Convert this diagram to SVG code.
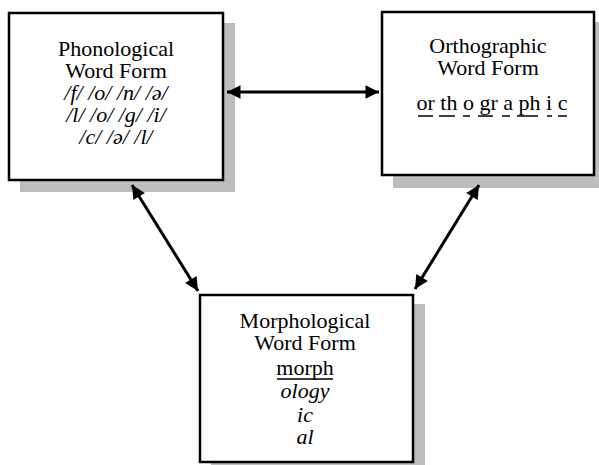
<svg xmlns="http://www.w3.org/2000/svg" width="599" height="465" viewBox="0 0 599 465">
<defs>
<style>
.shadow{fill:#bdbdbd;}
.box{fill:#fff;stroke:#000;stroke-width:2.5;}
.t{font-family:"Liberation Serif","Times New Roman",serif;font-size:22px;fill:#000;text-anchor:middle;}
.i{font-style:italic;}
.ul{stroke:#000;stroke-width:1.5;}
.conn{stroke:#000;stroke-width:3;fill:none;marker-start:url(#ah);marker-end:url(#ah);}
</style>
<marker id="ah" viewBox="0 0 10 10" refX="10" refY="5" markerWidth="5.5" markerHeight="4.5" orient="auto-start-reverse" markerUnits="strokeWidth">
<path d="M0,0 L10,5 L0,10 z" fill="#000"/>
</marker>
</defs>
<rect width="599" height="465" fill="#fff"/>
<g id="phonological">
<rect class="shadow" x="20" y="23" width="215" height="169"/>
<rect class="box" x="9" y="13" width="214" height="167"/>
<text class="t" x="116" y="56">Phonological</text>
<text class="t" x="116" y="78">Word Form</text>
<text class="t i" x="116" y="100">/f/ /o/ /n/ /ə/</text>
<text class="t i" x="116" y="122">/l/ /o/ /g/ /i/</text>
<text class="t i" x="116" y="144">/c/ /ə/ /l/</text>
</g>
<g id="orthographic">
<rect class="shadow" x="393" y="22" width="210" height="166"/>
<rect class="box" x="382" y="12" width="212" height="163"/>
<text class="t" x="488" y="53">Orthographic</text>
<text class="t" x="488" y="75">Word Form</text>
<text class="t" x="492" y="110">or th o gr a ph i c</text>
<line class="ul" x1="418" y1="116" x2="433" y2="116"/>
<line class="ul" x1="439" y1="116" x2="455" y2="116"/>
<line class="ul" x1="463" y1="116" x2="470" y2="116"/>
<line class="ul" x1="478" y1="116" x2="493" y2="116"/>
<line class="ul" x1="502" y1="116" x2="510" y2="116"/>
<line class="ul" x1="517" y1="116" x2="538" y2="116"/>
<line class="ul" x1="547" y1="116" x2="552" y2="116"/>
<line class="ul" x1="558" y1="116" x2="567" y2="116"/>
</g>
<g id="morphological">
<rect class="shadow" x="211" y="304" width="214" height="168"/>
<rect class="box" x="200" y="295" width="213" height="167"/>
<text class="t" x="305" y="328">Morphological</text>
<text class="t" x="305" y="350">Word Form</text>
<text class="t" x="305" y="375">morph</text>
<line class="ul" x1="277" y1="379" x2="333" y2="379"/>
<text class="t i" x="305" y="398">ology</text>
<text class="t i" x="305" y="422">ic</text>
<text class="t i" x="305" y="444">al</text>
</g>
<g id="connectors">
<line class="conn" x1="227" y1="92" x2="379" y2="92"/>
<line class="conn" x1="132" y1="185" x2="198" y2="291"/>
<line class="conn" x1="479" y1="185" x2="415" y2="289"/>
</g>
</svg>
